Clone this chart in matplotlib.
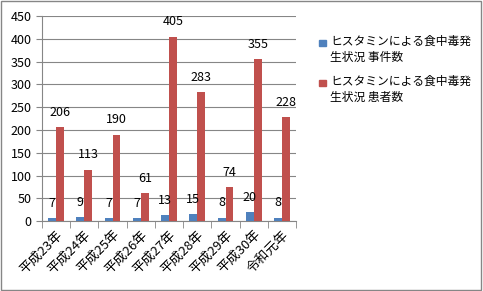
import matplotlib.pyplot as plt
import numpy as np
from matplotlib.patches import Rectangle

plt.rcParams['font.family'] = ['Noto Sans CJK JP', 'DejaVu Sans']

categories = ['平成23年', '平成24年', '平成25年', '平成26年', '平成27年',
              '平成28年', '平成29年', '平成30年', '令和元年']
incidents = [7, 9, 7, 7, 13, 15, 8, 20, 8]
patients = [206, 113, 190, 61, 405, 283, 74, 355, 228]
series_names = ['ヒスタミンによる食中毒発\n生状況 事件数',
                'ヒスタミンによる食中毒発\n生状況 患者数']

blue = '#4f81bd'
red = '#c0504d'

fig = plt.figure(figsize=(4.83, 2.91), dpi=100)
ax = fig.add_axes([0.087, 0.24, 0.526, 0.705])

x = np.arange(len(categories))
w = 0.28
b1 = ax.bar(x - w / 2, incidents, w, color=blue, zorder=3)
b2 = ax.bar(x + w / 2, patients, w, color=red, zorder=3)

for bars, vals in ((b1, incidents), (b2, patients)):
    for r, v in zip(bars, vals):
        ax.annotate(str(v), (r.get_x() + r.get_width() / 2, v),
                    xytext=(0, 6), textcoords='offset points',
                    ha='center', va='bottom', fontsize=9)

ax.set_xlim(-0.5, len(categories) - 0.5)
ax.set_ylim(0, 450)
ax.set_yticks(range(0, 451, 50))
ax.yaxis.grid(True, color='#868686', linewidth=0.8, zorder=0)
ax.set_xticks(x)
ax.set_xticklabels(categories, rotation=45, ha='right', rotation_mode='anchor',
                   fontsize=9.5)
ax.tick_params(axis='y', labelsize=9, length=4, color='#868686')
ax.tick_params(axis='x', length=0, pad=5)
# category separator ticks
ax.set_xticks(np.arange(-0.5, len(categories), 1), minor=True)
ax.tick_params(axis='x', which='minor', length=5, color='#868686')

for s in ['top', 'right']:
    ax.spines[s].set_visible(False)
ax.spines['left'].set_color('#868686')
ax.spines['bottom'].set_color('#868686')

# legend drawn by hand so the colour square sits on the first text line
for i, (name, col) in enumerate(zip(series_names, [blue, red])):
    yc = 1 - (43 + 40 * i) / 291
    fig.patches.append(Rectangle((0.660, yc - 0.012), 0.0145, 0.024,
                                 transform=fig.transFigure, color=col))
    fig.text(0.683, yc + 0.028, name, fontsize=8.5, va='top', ha='left',
             linespacing=1.35)

fig.patches.append(Rectangle((0.002, 0.003), 0.994, 0.992, transform=fig.transFigure,
                             fill=False, edgecolor='#868686', linewidth=1))

fig.savefig('out.png', dpi=100)
